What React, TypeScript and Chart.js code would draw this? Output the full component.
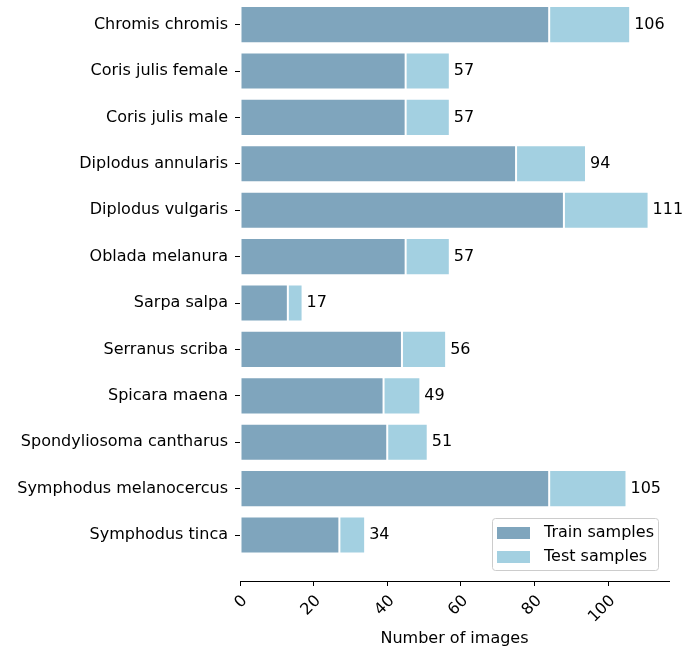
import React, { useEffect, useRef } from "react";
import { Chart, registerables } from "chart.js";

Chart.register(...registerables);

const categories = [
  "Chromis chromis",
  "Coris julis female",
  "Coris julis male",
  "Diplodus annularis",
  "Diplodus vulgaris",
  "Oblada melanura",
  "Sarpa salpa",
  "Serranus scriba",
  "Spicara maena",
  "Spondyliosoma cantharus",
  "Symphodus melanocercus",
  "Symphodus tinca",
];
const trainValues = [84, 45, 45, 75, 88, 45, 13, 44, 39, 40, 84, 27];
const testValues = [22, 12, 12, 19, 23, 12, 4, 12, 10, 11, 21, 7];
const totalLabels = [106, 57, 57, 94, 111, 57, 17, 56, 49, 51, 105, 34];
const xTickValues = [0, 20, 40, 60, 80, 100];
const seriesNames = ["Train samples", "Test samples"];
const xTitle = "Number of images";

const TRAIN_COLOR = "#7fa5bd";
const TEST_COLOR = "#a3d0e1";
const FONT = "DejaVu Sans";

const overlayPlugin = {
  id: "overlay",
  afterDraw(chart: any) {
    const ctx = chart.ctx as CanvasRenderingContext2D;
    const xs = chart.scales.x;
    const ys = chart.scales.y;
    const area = chart.chartArea;
    ctx.save();
    ctx.fillStyle = "#000";
    ctx.font = `16px "${FONT}"`;
    // totals
    ctx.textAlign = "left";
    ctx.textBaseline = "middle";
    totalLabels.forEach((t, i) => {
      ctx.fillText(String(t), xs.getPixelForValue(t) + 4, ys.getPixelForValue(i));
    });
    // x tick labels rotated
    xTickValues.forEach((v) => {
      const px = xs.getPixelForValue(v);
      ctx.save();
      ctx.translate(px + 4.7, area.bottom + 17.3);
      ctx.rotate(-Math.PI / 4);
      ctx.textAlign = "right";
      ctx.textBaseline = "middle";
      ctx.fillText(String(v), 0, 0);
      ctx.restore();
    });
    // x title
    ctx.textAlign = "center";
    ctx.textBaseline = "alphabetic";
    ctx.fillText(xTitle, (area.left + area.right) / 2, 643);
    // legend
    const lx = 492, ly = 518, lw = 166, lh = 52;
    ctx.beginPath();
    (ctx as any).roundRect(lx + 0.5, ly + 0.5, lw, lh, 3);
    ctx.fillStyle = "rgba(255,255,255,0.8)";
    ctx.fill();
    ctx.strokeStyle = "#cccccc";
    ctx.lineWidth = 1;
    ctx.stroke();
    const ds = chart.data.datasets;
    ds.forEach((d: any, i: number) => {
      const cy = 533 + i * 24;
      ctx.fillStyle = d.backgroundColor;
      ctx.fillRect(497, cy - 6, 33, 12);
      ctx.fillStyle = "#000";
      ctx.textAlign = "left";
      ctx.textBaseline = "middle";
      ctx.fillText(d.label, 544, cy);
    });
    ctx.restore();
  },
};

export default function App() {
  const canvasRef = useRef<HTMLCanvasElement | null>(null);

  useEffect(() => {
    if (!canvasRef.current) return;
    const chart = new Chart(canvasRef.current, {
      type: "bar",
      data: {
        datasets: [
          {
            label: seriesNames[0],
            data: trainValues.map((v, i) => ({ x: v, y: i })),
            backgroundColor: TRAIN_COLOR,
            borderColor: "rgba(255,255,255,0.6)",
            borderWidth: 1,
            borderSkipped: false,
            barPercentage: 0.8,
            categoryPercentage: 1,
          },
          {
            label: seriesNames[1],
            data: testValues.map((v, i) => ({ x: v, y: i })),
            backgroundColor: TEST_COLOR,
            borderColor: "rgba(255,255,255,0.6)",
            borderWidth: 1,
            borderSkipped: false,
            barPercentage: 0.8,
            categoryPercentage: 1,
          },
        ],
      } as any,
      options: {
        indexAxis: "y",
        animation: false,
        responsive: false,
        devicePixelRatio: 1,
        layout: { padding: { left: 0, right: 28, top: 0, bottom: 0 } },
        plugins: {
          legend: { display: false },
          tooltip: { enabled: false },
        },
        scales: {
          x: {
            type: "linear",
            min: 0,
            max: 116.55,
            stacked: true,
            offset: false,
            afterBuildTicks: (s: any) => {
              s.ticks = xTickValues.map((v) => ({ value: v }));
            },
            ticks: { display: false },
            grid: {
              display: true,
              offset: false,
              drawOnChartArea: false,
              drawTicks: true,
              tickLength: 5,
              color: "#000",
              lineWidth: 1,
            },
            border: { display: true, color: "#000", width: 1 },
            afterFit: (s: any) => {
              s.height = 68;
              s.paddingLeft = 0;
              s.paddingRight = 0;
              s.paddingTop = 0;
              s.paddingBottom = 0;
            },
          },
          y: {
            type: "linear",
            reverse: true,
            min: -0.53,
            max: 11.99,
            stacked: true,
            offset: false,
            afterBuildTicks: (s: any) => {
              s.ticks = categories.map((_, i) => ({ value: i }));
            },
            ticks: {
              autoSkip: false,
              padding: 7,
              color: "#000",
              font: { family: FONT, size: 16 },
              callback: (v: any) => categories[Math.round(Number(v))],
            },
            grid: {
              display: true,
              offset: false,
              drawOnChartArea: false,
              drawTicks: true,
              tickLength: 5,
              color: "#000",
              lineWidth: 1,
            },
            border: { display: false },
            afterFit: (s: any) => {
              s.width = 240;
              s.paddingLeft = 0;
              s.paddingRight = 0;
              s.paddingTop = 0;
              s.paddingBottom = 0;
            },
          },
        },
      } as any,
      plugins: [overlayPlugin],
    });
    return () => chart.destroy();
  }, []);

  return (
    <div style={{ position: "fixed", left: 0, top: 0, width: 697, height: 649, background: "#fff" }}>
      <canvas ref={canvasRef} width={697} height={649} style={{ display: "block" }} />
    </div>
  );
}
